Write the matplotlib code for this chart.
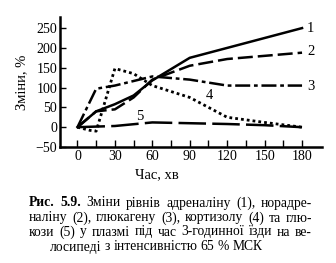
import matplotlib
matplotlib.use("Agg")
from matplotlib import pyplot as plt

plt.rcParams['font.family'] = ['Liberation Serif', 'DejaVu Serif']

# data (minutes, % change)
t1 = [0, 15, 30, 45, 60, 90, 180]
adrenaline = [0, 40, 58, 80, 118, 175, 250]
t2 = [0, 15, 30, 45, 60, 90, 120, 150, 180]
noradrenaline = [0, 40, 45, 75, 120, 155, 172, 180, 188]
t3 = [0, 15, 30, 60, 90, 120, 180]
glucagon = [0, 97, 105, 128, 120, 105, 105]
t4 = [0, 10, 15, 30, 45, 60, 90, 105, 120, 150, 180]
cortisol = [0, -8, -10, 148, 135, 105, 75, 50, 25, 12, 0]
t5 = [0, 30, 60, 90, 120, 150, 180]
glucose = [0, 3, 12, 10, 8, 5, 0]

xticks = [0, 30, 60, 90, 120, 150, 180]
yticks = [-50, 0, 50, 100, 150, 200, 250]

caption_bold = "Рис. 5.9."
caption_lines = [
    "Зміни рівнів адреналіну (1), норадре-",
    "наліну (2), глюкагену (3), кортизолу (4) та глю-",
    "кози (5) у плазмі під час 3-годинної їзди на ве-",
    "лосипеді з інтенсивністю 65 % МСК",
]

W, H = 336, 263
fig = plt.figure(figsize=(W / 100, H / 100), dpi=100)
ax = fig.add_axes([60 / W, 1 - 147 / H, 262 / W, 130 / H])

lw = 1.8
ax.plot(t1, adrenaline, color='black', lw=lw)
ax.plot(t2, noradrenaline, color='black', lw=lw, dashes=(6, 2))
ax.plot(t3, glucagon, color='black', lw=lw, dashes=(6, 1.5, 1.5, 1.5))
ax.plot(t4, cortisol, color='black', lw=2.0, dashes=(1, 1.1))
ax.plot(t5, glucose, color='black', lw=lw, dashes=(11, 2.5))

ax.set_xlim(-14, 196)
ax.set_ylim(-50, 278)
ax.set_xticks(xticks)
ax.set_xticks(range(0, 181, 15), minor=True)
ax.set_yticks(yticks)
ax.tick_params(direction='in', labelsize=10, width=1, length=5, pad=2)
ax.tick_params(which='minor', direction='in', width=1, length=5)
ax.tick_params(axis='y', length=4)
for s in ['top', 'right']:
    ax.spines[s].set_visible(False)
for s in ['left', 'bottom']:
    ax.spines[s].set_linewidth(1.8)

# curve labels
lab = dict(fontsize=10.5, color='black', va='center')
ax.text(184, 250, "1", ha='left', **lab)
ax.text(184, 190, "2", ha='left', **lab)
ax.text(184, 103, "3", ha='left', **lab)
ax.text(106, 80, "4", ha='center', **lab)
ax.text(50, 28, "5", ha='center', **lab)

fig.text(22 / W, 1 - 82 / H, "Зміни, %", rotation=90, ha='center', va='center',
         fontsize=10.5)
fig.text(157 / W, 1 - 175 / H, "Час, хв", ha='center', va='center', fontsize=10.5)

# caption, justified like a book page
renderer = fig.canvas.get_renderer()
fs = 9.8
left, right = 29, 312
line_y = [203, 218, 232, 247]


def width(txt, weight='normal'):
    tt = fig.text(0, 0, txt, fontsize=fs, weight=weight)
    w = tt.get_window_extent(renderer).width
    tt.remove()
    return w


space = width("a b") - width("ab")
for i, line in enumerate(caption_lines):
    y = 1 - line_y[i] / H
    words = line.split(" ")
    items = [(w, 'normal') for w in words]
    if i == 0:
        items = [(wd, 'bold') for wd in caption_bold.split(" ")] + items
    widths = [width(w, wt) for w, wt in items]
    if i < 3:
        gap = (right - left - sum(widths)) / (len(items) - 1)
        x = left
    else:
        gap = space
        total = sum(widths) + gap * (len(items) - 1)
        x = 156 - total / 2
    for (w, wt), wd in zip(items, widths):
        fig.text(x / W, y, w, fontsize=fs, weight=wt, va='center')
        x += wd + gap

fig.savefig("out.png", dpi=100)
